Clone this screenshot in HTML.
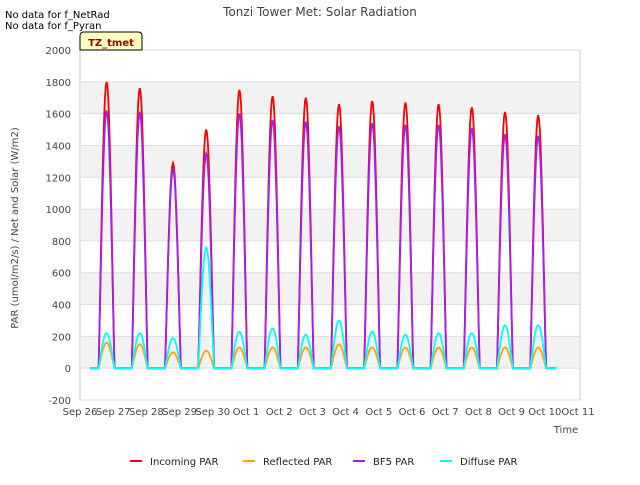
<!DOCTYPE html>
<html><head><meta charset="utf-8"><style>
body{margin:0;background:#fff;font-family:"Liberation Sans",sans-serif}
svg text{font-family:"DejaVu Sans","Liberation Sans",sans-serif}
</style></head><body>
<svg id="c" width="640" height="480">
<rect x="80" y="50" width="500" height="350" fill="#fff" stroke="#ccc"/>
<g id="bands"></g><g id="grid"></g><g id="series"></g><g id="axes"></g>
<text x="320" y="16" text-anchor="middle" font-size="12" fill="#444">Tonzi Tower Met: Solar Radiation</text>
<text x="5" y="18" font-size="10" fill="#000">No data for f_NetRad</text>
<text x="5" y="29" font-size="10" fill="#000">No data for f_Pyran</text>
<g><path d="M80,50 L80,36 Q80,32 84,32 L138,32 Q142,32 142,36 L142,50 Z" fill="#ffffc0" stroke="#000"/>
<text x="111" y="46" text-anchor="middle" font-size="10" font-weight="bold" fill="#a00000">TZ_tmet</text></g>
<text x="566" y="433" text-anchor="middle" font-size="10" fill="#444">Time</text>
<text transform="translate(18,228) rotate(-90)" text-anchor="middle" font-size="10" fill="#444">PAR (umol/m2/s) / Net and Solar (W/m2)</text>
<g id="legend"></g>
</svg>
<script>
const xTicks=["Sep 26","Sep 27","Sep 28","Sep 29","Sep 30","Oct 1","Oct 2","Oct 3","Oct 4","Oct 5","Oct 6","Oct 7","Oct 8","Oct 9","Oct 10","Oct 11"];
const yTicks=[-200,0,200,400,600,800,1000,1200,1400,1600,1800,2000];
const seriesNames=["Incoming PAR","Reflected PAR","BF5 PAR","Diffuse PAR"];
const seriesColors=["#ff0000","#ffa500","#a020f0","#00ffff"];
const incomingPeaks=[1800,1760,1290,1500,1750,1710,1700,1660,1680,1670,1660,1640,1610,1590];
const reflectedPeaks=[160,150,100,110,130,130,130,150,130,130,130,130,130,130];
const bf5Peaks=[1620,1610,1250,1350,1600,1560,1550,1520,1540,1530,1530,1510,1470,1460];
const diffusePeaks=[220,220,190,760,230,250,210,300,230,210,220,220,270,270];
const dayStart=0.56, dayEnd=1.04, dataStart=0.3, dataEnd=14.35;
const X=d=>80+d*(498/15);
const Y=v=>400-(v+200)*(350/2200);
const NS="http://www.w3.org/2000/svg";
function el(t,a,p){const e=document.createElementNS(NS,t);for(const k in a)e.setAttribute(k,a[k]);document.getElementById(p).appendChild(e);return e;}
for(let i=0;i<yTicks.length-1;i++){ if(yTicks[i]>=0 && (yTicks[i]/200)%2===0){
 const b=el('rect',{x:81,y:Y(yTicks[i]+200),width:498,height:Y(yTicks[i])-Y(yTicks[i]+200),fill:'#f2f2f2'},'bands');
 
 }}
yTicks.forEach(v=>{
 const l=el('line',{x1:80,x2:580,y1:Y(v),y2:Y(v),stroke:'#ddd'},'grid');
 
 
 const t=el('text',{x:71,y:Y(v)+4,'text-anchor':'end','font-size':10,fill:'#444'},'axes');t.textContent=v;
 
 });
xTicks.forEach((s,i)=>{
 const t=el('text',{x:X(i),y:415,'text-anchor':'middle','font-size':10,fill:'#444'},'axes');t.textContent=s;
 
 });
function pathFor(peaks){
 let pts=[[X(dataStart),Y(0)]];
 for(let d=0;d<peaks.length;d++){
  pts.push([X(d+dayStart),Y(0)]);
  for(let k=1;k<20;k++){const f=k/20;pts.push([X(d+dayStart+f*(dayEnd-dayStart)),Y(peaks[d]*Math.pow(Math.sin(Math.PI*f),1.1))]);}
  pts.push([X(d+dayEnd),Y(0)]);
 }
 pts.push([X(dataEnd),Y(0)]);
 return 'M'+pts.map(p=>p[0].toFixed(1)+','+p[1].toFixed(1)).join('L');
}
[incomingPeaks,reflectedPeaks,bf5Peaks,diffusePeaks].forEach((pk,i)=>{
 const p=el('path',{d:pathFor(pk),fill:'none',stroke:seriesColors[i],'stroke-width':1.8},'series');
 
 });
const lx=[130,243,353,440];
seriesNames.forEach((n,i)=>{
 const l=el('line',{x1:lx[i],x2:lx[i]+12,y1:461,y2:461,stroke:seriesColors[i],'stroke-width':2},'legend');
 
 
 const t=el('text',{x:lx[i]+20,y:465,'font-size':10,fill:'#222'},'legend');t.textContent=n;
 
 });
</script>
</body></html>
